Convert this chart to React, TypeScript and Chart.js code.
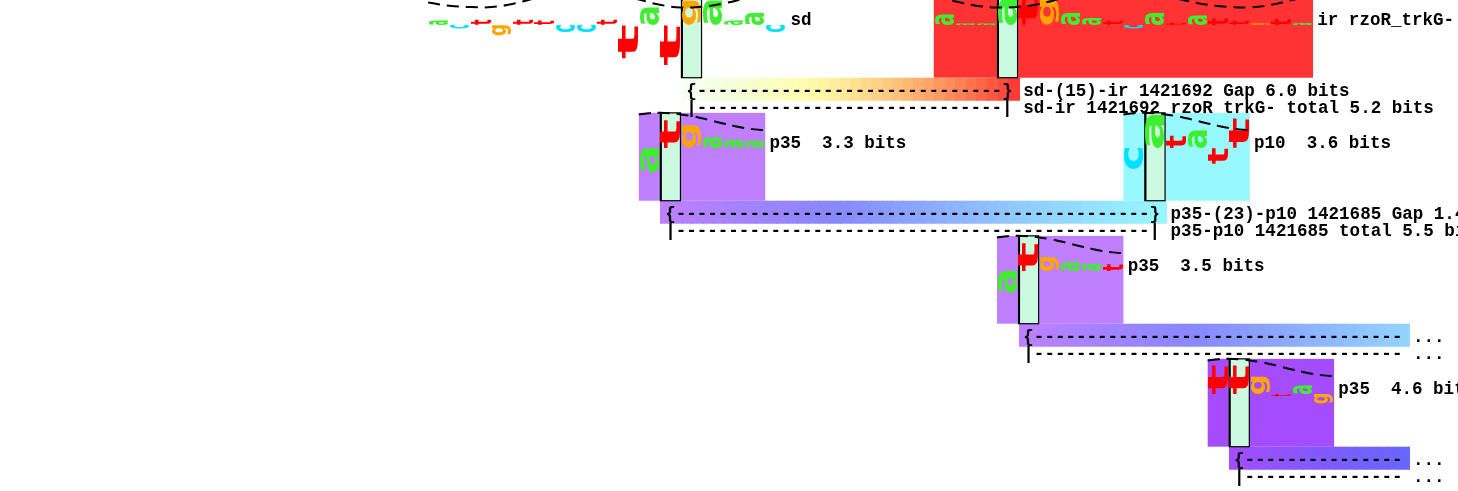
import React, { useEffect, useRef } from "react";
import { Chart, registerables } from "chart.js";

Chart.register(...registerables);

// ---- axis frame (x: bases relative to sd zero; y: bits, rows stacked every 7 bits) ----
const X_MIN = -32.32;
const X_MAX = 36.88;
const Y_MIN = -26.52;
const Y_MAX = 1.423;
const ROW_STEP = 7;
const BOX_TOP = 2;
const BOX_BOTTOM = -3;

// ---- sites ----
const siteNames = ["sd", "ir", "p35", "p10", "p35", "p35"];
const siteRows = [0, 0, 1, 1, 2, 3];
const siteZero = [0, 15, -1, 22, 16, 26];
const siteFrom = [-12, -3, -1, -1, -1, -1];
const siteTo = [5, 15, 5, 5, 5, 5];
const siteColors = ["#fbfff7", "#ff3333", "#bf7fff", "#98f8ff", "#bf7fff", "#a64cff"];
const siteLabels = ["sd", "ir rzoR_trkG-", "p35  3.3 bits", "p10  3.6 bits", "p35  3.5 bits", "p35  4.6 bits"];
const siteDrawBox = [false, true, true, true, true, true];

// ---- sequences and per-base information (bits) ----
const sdSeq = "actgttccttatgaaac";
const sdBits = [0.25, -0.2, 0.3, -0.6, 0.3, 0.25, -0.4, -0.4, 0.3, -1.9, 1.0, -2.3, 1.4, 1.4, 0.25, 0.7, -0.4];
const irSeq = "aaaatgaatcatattgta";
const irBits = [0.6, 0.1, 0.1, 1.5, 1.9, 1.5, 0.7, 0.4, 0.25, -0.2, 0.7, 0.12, 0.55, 0.4, 0.25, 0.1, 0.35, 0.12];
const p35aSeq = "atgaaa";
const p35aBits = [-1.4, 1.6, 1.3, 0.6, 0.45, 0.4];
const p10Seq = "catatt";
const p10Bits = [-1.2, 1.9, 0.7, 1.0, -0.9, 1.7];
const p35bSeq = "atgaat";
const p35bBits = [-1.25, 1.6, 0.8, 0.5, 0.4, 0.4];
const p35cSeq = "ttgtag";
const p35cBits = [1.65, 1.65, 1.0, -0.12, 0.5, -0.55];
const siteSeqs = [sdSeq, irSeq, p35aSeq, p10Seq, p35bSeq, p35cSeq];
const siteBits = [sdBits, irBits, p35aBits, p10Bits, p35bBits, p35cBits];

// ---- dashed helix-phase curves (relative to site zero) ----
const sdCurveX = [-12, -11, -10, -9, -8, -7, -6, -5, -4, -3, -2, -1, 0, 1, 2, 3, 4, 5];
const sdCurveY = [1.28, 1.1, 1.02, 1.02, 1.2, 1.5, 1.8, 1.97, 1.95, 1.75, 1.45, 1.15, 1.0, 1.04, 1.22, 1.5, 1.8, 1.97];
const irCurveX = [-3, -2, -1, 0, 1, 2, 3, 4, 5, 6, 7, 8, 9, 10, 11, 12, 13, 14, 15];
const irCurveY = [1.6, 1.35, 1.1, 1.0, 1.02, 1.2, 1.5, 1.8, 1.96, 1.98, 1.88, 1.65, 1.38, 1.15, 1.03, 1.0, 1.15, 1.42, 1.68];
const promoterCurveX = [-1, -0.5, 0, 0.5, 1, 1.5, 2, 2.5, 3, 3.5, 4, 4.5, 5];
const promoterCurveY = [1.91, 1.98, 2.0, 1.98, 1.91, 1.82, 1.69, 1.54, 1.4, 1.26, 1.14, 1.06, 1.01];
const siteCurveX = [sdCurveX, irCurveX, promoterCurveX, promoterCurveX, promoterCurveX, promoterCurveX];
const siteCurveY = [sdCurveY, irCurveY, promoterCurveY, promoterCurveY, promoterCurveY, promoterCurveY];

// ---- gaps between sites ----
const gapFromSite = [0, 2, 4, 5];
const gapTargetZero = [15, 22, 39, 49];
const gapTargetColor = ["#ff3333", "#98f8ff", "#98f8ff", "#98f8ff"];
const gapDashCount = [29, 45, 35, 15];
const gapTail1 = ["} sd-(15)-ir 1421692 Gap 6.0 bits", "} p35-(23)-p10 1421685 Gap 1.4 bits", " ... :", " ... :"];
const gapTail2 = ["| sd-ir 1421692 rzoR trkG- total 5.2 bits", "| p35-p10 1421685 total 5.5 bits", " ... :", " ... :"];
const GAP_CUT = 34.6;

const letterColors: Record<string, string> = { a: "#3fee30", c: "#00e0ff", g: "#ffa500", t: "#ff0000" };
const STRIP_COLOR = "#ccfae0";
const TEXT_FONT = "bold 17.56px 'Liberation Mono', 'DejaVu Sans Mono', monospace";
const LETTER_FONT = "bold 100px 'DejaVu Sans', sans-serif";

function hexToHsv(hex: string) {
  const r = parseInt(hex.slice(1, 3), 16) / 255;
  const g = parseInt(hex.slice(3, 5), 16) / 255;
  const b = parseInt(hex.slice(5, 7), 16) / 255;
  const max = Math.max(r, g, b), min = Math.min(r, g, b), d = max - min;
  let h = 0;
  if (d > 0) {
    if (max === r) h = 60 * (((g - b) / d) % 6);
    else if (max === g) h = 60 * ((b - r) / d + 2);
    else h = 60 * ((r - g) / d + 4);
  }
  if (h < 0) h += 360;
  return { h, s: max === 0 ? 0 : d / max, v: max };
}
function hsvCss(h: number, s: number, v: number) {
  const c = v * s, hp = h / 60, x = c * (1 - Math.abs((hp % 2) - 1));
  let r = 0, g = 0, b = 0;
  if (hp < 1) [r, g, b] = [c, x, 0];
  else if (hp < 2) [r, g, b] = [x, c, 0];
  else if (hp < 3) [r, g, b] = [0, c, x];
  else if (hp < 4) [r, g, b] = [0, x, c];
  else if (hp < 5) [r, g, b] = [x, 0, c];
  else [r, g, b] = [c, 0, x];
  const m = v - c;
  return `rgb(${Math.round((r + m) * 255)},${Math.round((g + m) * 255)},${Math.round((b + m) * 255)})`;
}

const walkerPlugin = {
  id: "walker",
  beforeDatasetsDraw(chart: any) {
    const { ctx } = chart;
    const xs = chart.scales.x, ys = chart.scales.y;
    const X = (v: number) => xs.getPixelForValue(v);
    const Y = (v: number) => ys.getPixelForValue(v);
    ctx.save();
    // boxes
    siteNames.forEach((_, i) => {
      if (!siteDrawBox[i]) return;
      const z = siteZero[i], B = -ROW_STEP * siteRows[i];
      const x0 = X(z + siteFrom[i]), x1 = X(z + siteTo[i]);
      const y0 = Y(B + BOX_TOP), y1 = Y(B + BOX_BOTTOM);
      ctx.fillStyle = siteColors[i];
      ctx.fillRect(x0, y0, x1 - x0, y1 - y0);
    });
    // gap bars (hue interpolated bands)
    gapFromSite.forEach((si, k) => {
      const z1 = siteZero[si], z2 = gapTargetZero[k];
      const B = -ROW_STEP * siteRows[si];
      const start = z1 + 0.05, full = z2 + 1.05, end = Math.min(full, GAP_CUT);
      const c0 = hexToHsv(siteColors[si]), c1 = hexToHsv(gapTargetColor[k]);
      const yTop = Y(B + BOX_BOTTOM), yBot = Y(B + BOX_BOTTOM - 1.31);
      for (let a = start; a < end; a += 0.5) {
        const b = Math.min(a + 0.5, end);
        const t = (a + 0.25 - start) / (full - start);
        const h = c0.h + (c1.h - c0.h) * t;
        const s = c0.s + (c1.s - c0.s) * t;
        const v = c0.v + (c1.v - c0.v) * t;
        ctx.fillStyle = hsvCss(h, s, v);
        const px0 = Math.floor(X(a)), px1 = Math.ceil(X(b));
        ctx.fillRect(px0, yTop, px1 - px0, yBot - yTop);
      }
    });
    // zero strips
    siteNames.forEach((_, i) => {
      const z = siteZero[i], B = -ROW_STEP * siteRows[i];
      const x0 = X(z), x1 = X(z + 1);
      const y0 = Y(B + BOX_TOP), y1 = Y(B + BOX_BOTTOM);
      ctx.fillStyle = STRIP_COLOR;
      ctx.fillRect(x0, y0, x1 - x0, y1 - y0);
      ctx.strokeStyle = "#000";
      ctx.lineWidth = 1.2;
      ctx.strokeRect(x0 + 0.5, y0, x1 - x0 - 1, y1 - y0);
      ctx.lineWidth = 2;
      ctx.beginPath();
      ctx.moveTo(x0 + 1, y0);
      ctx.lineTo(x0 + 1, y1);
      ctx.stroke();
    });
    // letters
    ctx.font = LETTER_FONT;
    siteNames.forEach((_, i) => {
      const z = siteZero[i], B = -ROW_STEP * siteRows[i];
      const seq = siteSeqs[i], bits = siteBits[i];
      for (let k = 0; k < seq.length; k++) {
        const p = z + siteFrom[i] + k;
        const ch = seq[k], b = bits[k];
        const xa = X(p), xb = X(p + 1);
        const ya = Y(B + Math.max(b, 0)), yb = Y(B + Math.min(b, 0));
        const w = (xb - xa) * 0.93, h = Math.abs(yb - ya);
        if (h < 0.5) continue;
        const m = ctx.measureText(ch);
        const L = m.actualBoundingBoxLeft, R = m.actualBoundingBoxRight;
        const A = m.actualBoundingBoxAscent, D = m.actualBoundingBoxDescent;
        const W = L + R, H = A + D;
        ctx.save();
        ctx.translate((xa + xb) / 2, (ya + yb) / 2);
        ctx.rotate(-Math.PI / 2);
        ctx.scale(h / W, w / H);
        ctx.fillStyle = letterColors[ch];
        ctx.textAlign = "left";
        ctx.textBaseline = "alphabetic";
        ctx.fillText(ch, -(R - L) / 2, (A - D) / 2);
        ctx.restore();
      }
    });
    ctx.restore();
  },
  afterDatasetsDraw(chart: any) {
    const { ctx } = chart;
    const xs = chart.scales.x, ys = chart.scales.y;
    const X = (v: number) => xs.getPixelForValue(v);
    const Y = (v: number) => ys.getPixelForValue(v);
    ctx.save();
    ctx.font = TEXT_FONT;
    ctx.fillStyle = "#000";
    ctx.textAlign = "left";
    ctx.textBaseline = "middle";
    siteNames.forEach((_, i) => {
      const z = siteZero[i], B = -ROW_STEP * siteRows[i];
      ctx.fillText(siteLabels[i], X(z + siteTo[i] + 0.2), Y(B + 0.25));
    });
    gapFromSite.forEach((si, k) => {
      const z1 = siteZero[si], B = -ROW_STEP * siteRows[si];
      const dashes = "-".repeat(gapDashCount[k]);
      ctx.fillText("{" + dashes + gapTail1[k], X(z1 + 0.25), Y(B - 3.77));
      ctx.fillText("|" + dashes + gapTail2[k], X(z1 + 0.25), Y(B - 4.74));
    });
    ctx.restore();
  },
};

export default function App() {
  const ref = useRef<HTMLCanvasElement>(null);
  useEffect(() => {
    const canvas = ref.current;
    if (!canvas) return;
    const datasets = siteNames.map((name, i) => {
      const z = siteZero[i], B = -ROW_STEP * siteRows[i];
      return {
        label: name + " phase",
        data: siteCurveX[i].map((rx, k) => ({ x: z + rx, y: B + siteCurveY[i][k] })),
        showLine: true,
        borderColor: "#000",
        borderWidth: 2,
        borderDash: [12, 7],
        pointRadius: 0,
        tension: 0.4,
        fill: false,
      };
    });
    const chart = new Chart(canvas, {
      type: "scatter",
      data: { datasets },
      options: {
        animation: false,
        responsive: false,
        devicePixelRatio: 1,
        layout: { padding: 0 },
        scales: {
          x: { type: "linear", min: X_MIN, max: X_MAX, display: false },
          y: { type: "linear", min: Y_MIN, max: Y_MAX, display: false },
        },
        plugins: { legend: { display: false }, tooltip: { enabled: false } },
      },
      plugins: [walkerPlugin],
    } as any);
    return () => chart.destroy();
  }, []);
  return (
    <div style={{ position: "fixed", left: 0, top: 0, width: 1458, height: 491, background: "#fff" }}>
      <canvas ref={ref} width={1458} height={491} style={{ display: "block" }} />
    </div>
  );
}
